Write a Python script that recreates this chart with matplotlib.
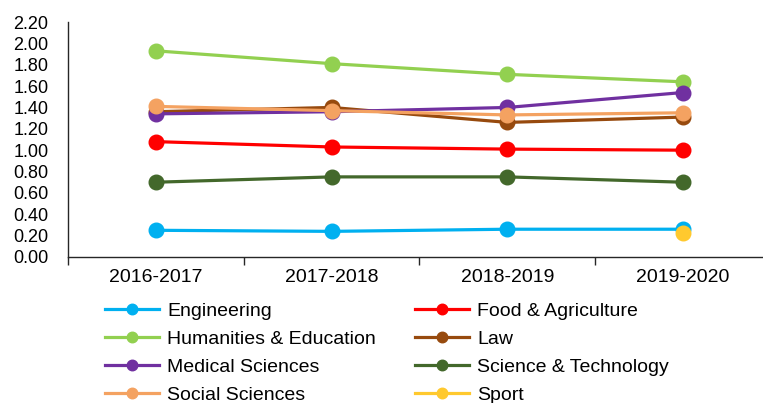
import numpy as np
import matplotlib
matplotlib.use('Agg')
import matplotlib.pyplot as plt

plt.rcParams['font.family'] = ['Liberation Sans', 'DejaVu Sans']

# 数据
years = ['2016-2017', '2017-2018', '2018-2019', '2019-2020']
engineering = [0.25, 0.24, 0.26, 0.26]
food_agri = [1.08, 1.03, 1.01, 1.00]
humanities = [1.93, 1.81, 1.71, 1.64]
law = [1.36, 1.40, 1.26, 1.31]
medical = [1.34, 1.36, 1.40, 1.54]
sci_tech = [0.70, 0.75, 0.75, 0.70]
social = [1.41, 1.37, 1.33, 1.35]
sport = [np.nan, np.nan, np.nan, 0.22]

series = [
    ('Engineering', engineering, '#00B0F0'),
    ('Food & Agriculture', food_agri, '#FF0000'),
    ('Humanities & Education', humanities, '#92D050'),
    ('Law', law, '#974A0E'),
    ('Medical Sciences', medical, '#7030A0'),
    ('Science & Technology', sci_tech, '#43682B'),
    ('Social Sciences', social, '#F4A261'),
    ('Sport', sport, '#FFC92E'),
]

yticks = np.arange(0, 2.21, 0.2)


def main():
    fig = plt.figure(figsize=(7.63, 4.03), dpi=100)
    ax = fig.add_axes([0.0891, 0.3623, 0.9214, 0.5831])

    x = np.arange(len(years))
    handles = []
    for name, vals, col in series:
        h, = ax.plot(x, vals, color=col, lw=2.3, marker='o', markersize=10.5,
                     label=name)
        handles.append(h)

    ax.set_xlim(-0.5, len(years) - 0.5)
    ax.set_ylim(0, 2.2)

    # x 轴：类别边界刻度 + 居中标签
    ax.set_xticks(np.arange(-0.5, len(years), 1.0))
    ax.set_xticklabels([])
    ax.tick_params(axis='x', which='major', length=6, width=1,
                   color='#262626', direction='out')
    ax.set_xticks(x, minor=True)
    ax.set_xticklabels(years, minor=True, fontsize=14)
    ax.tick_params(axis='x', which='minor', length=0, pad=9)

    ax.set_yticks(yticks)
    ax.set_yticklabels(['%.2f' % v for v in yticks], fontsize=13)
    ax.tick_params(axis='y', length=0, pad=14)

    for s in ['top', 'right']:
        ax.spines[s].set_visible(False)
    for s in ['left', 'bottom']:
        ax.spines[s].set_color('#262626')
        ax.spines[s].set_linewidth(1)

    # 图例按行排列：matplotlib 按列填充，所以重新排序
    order = [0, 2, 4, 6, 1, 3, 5, 7]
    fig.legend([handles[i] for i in order], [series[i][0] for i in order],
               loc='upper left', bbox_to_anchor=(105 / 763, 1 - 302 / 403),
               ncol=2, frameon=False, fontsize=14, borderpad=0,
               handlelength=2.8, handletextpad=0.4, columnspacing=2.0,
               labelspacing=0.54, borderaxespad=0, markerscale=0.72)

    fig.savefig('out.png', dpi=100)
    plt.close(fig)


if __name__ == '__main__':
    main()
